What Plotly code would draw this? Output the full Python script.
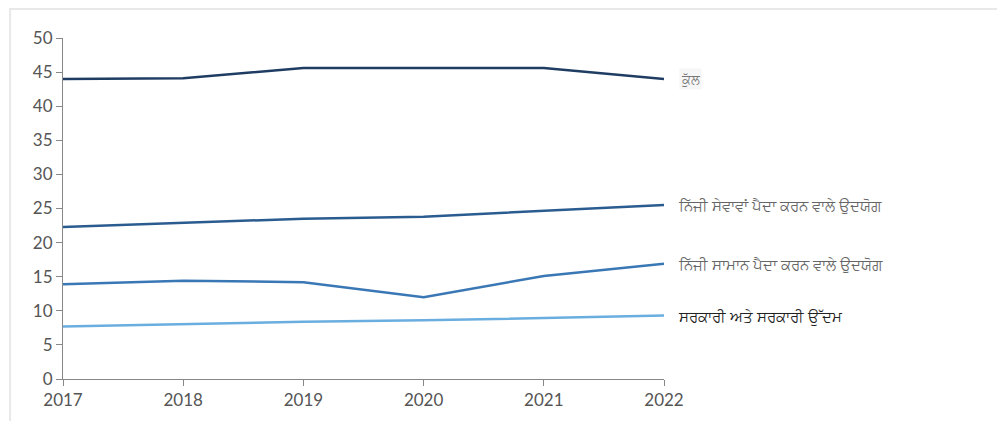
import plotly.graph_objects as go

years = [2017, 2018, 2019, 2020, 2021, 2022]
total = [44.0, 44.1, 45.6, 45.6, 45.6, 44.0]
services = [22.3, 22.9, 23.5, 23.8, 24.6, 25.5]
goods = [13.9, 14.4, 14.2, 12.0, 15.1, 16.9]
government = [7.7, 8.1, 8.4, 8.6, 8.9, 9.3]

names = ["ਕੁੱਲ", "ਨਿੱਜੀ ਸੇਵਾਵਾਂ ਪੈਦਾ ਕਰਨ ਵਾਲੇ ਉਦਯੋਗ", "ਨਿੱਜੀ ਸਾਮਾਨ ਪੈਦਾ ਕਰਨ ਵਾਲੇ ਉਦਯੋਗ", "ਸਰਕਾਰੀ ਅਤੇ ਸਰਕਾਰੀ ਉੱਦਮ"]
series = [total, services, goods, government]
colors = ["#1f3d63", "#2b5c90", "#3a77b5", "#6aaee0"]
label_colors = ["#777777", "#666666", "#666666", "#222222"]

fig = go.Figure()
for name, vals, col in zip(names, series, colors):
    fig.add_trace(go.Scatter(x=years, y=vals, mode="lines", name=name,
                             line=dict(color=col, width=2.5), showlegend=False))

for i, (name, vals, lc) in enumerate(zip(names, series, label_colors)):
    fig.add_annotation(x=years[-1], y=vals[-1], text=name, showarrow=False,
                       xanchor="left", yanchor="middle", xshift=12 if i else 15,
                       font=dict(family="Noto Sans, Lato, sans-serif", size=15 if i else 13, color=lc),
                       bgcolor="#f6f6f6" if i == 0 else None)

fig.add_shape(type="rect", xref="paper", yref="paper", x0=-0.088, x1=1.6, y0=-0.2, y1=1.085,
              line=dict(color="#e8e8e8", width=2), fillcolor="rgba(0,0,0,0)", layer="below")

fig.update_layout(
    width=990, height=413,
    margin=dict(l=55, r=334, t=30, b=42),
    plot_bgcolor="white", paper_bgcolor="white",
    font=dict(family="Lato, sans-serif", color="#555555"),
)
fig.update_xaxes(range=[2017, 2022], tickmode="array", tickvals=years,
                 ticktext=[str(y) for y in years], showgrid=False, zeroline=False,
                 showline=True, linecolor="#888888", linewidth=1, automargin=False,
                 ticks="outside", ticklen=6, tickcolor="#888888",
                 tickfont=dict(size=17, color="#555555"))
fig.update_yaxes(range=[0, 50], tickvals=list(range(0, 55, 5)), showgrid=False,
                 zeroline=False, showline=True, linecolor="#888888", linewidth=1, automargin=False,
                 ticks="outside", ticklen=6, tickcolor="#888888",
                 tickfont=dict(size=17, color="#555555"))

fig.write_html("out.html")
